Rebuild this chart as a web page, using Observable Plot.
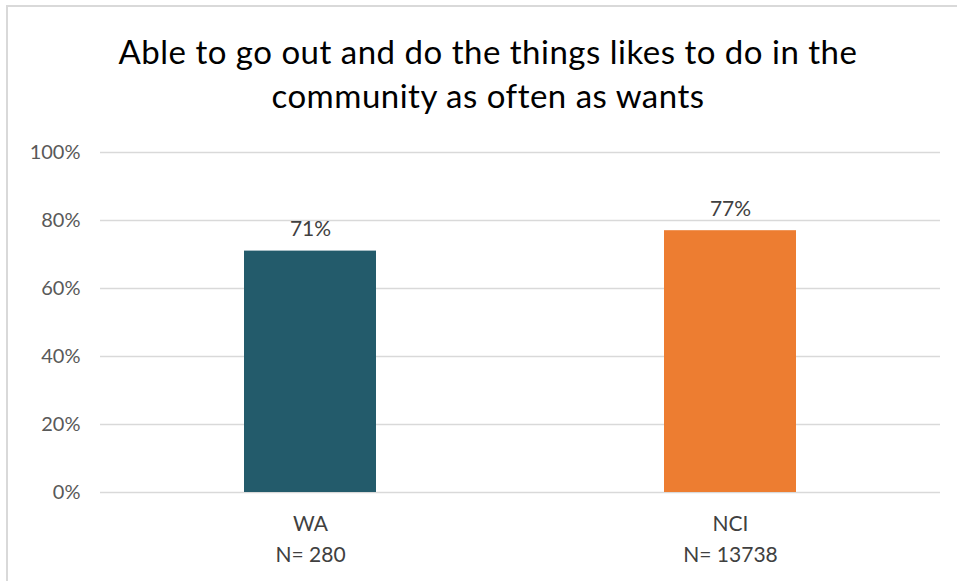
<!DOCTYPE html>
<html>
<head>
<meta charset="utf-8">
<script src="https://cdn.jsdelivr.net/npm/d3@7"></script>
<script src="https://cdn.jsdelivr.net/npm/@observablehq/plot@0.6"></script>
<style>
  html, body { margin: 0; padding: 0; background: #fff; }
  #wrap { position: relative; width: 957px; height: 581px; overflow: hidden; }
  #frame { position: absolute; left: 6px; top: 5px; width: 980px; height: 600px;
           border-left: 2px solid #d9d9d9; border-top: 2px solid #d9d9d9; }
  #title { position: absolute; left: 0; top: 29px; width: 976px; text-align: center;
           font-family: Lato, "Open Sans", sans-serif; font-size: 33px; line-height: 44px; color: #000;
           letter-spacing: 0.5px; }
  #chart { position: absolute; left: 0; top: 0; }
</style>
</head>
<body>
<div id="wrap">
  <div id="frame"></div>
  <div id="chart"></div>
  <div id="title">Able to go out and do the things likes to do in the<br>community as often as wants</div>
</div>
<script>
const categories = ["WA", "NCI"];
const sampleSizes = ["N= 280", "N= 13738"];
const values = [0.71, 0.77];
const colors = ["#235b6b", "#ed7d31"];
const yTicks = [0, 0.2, 0.4, 0.6, 0.8, 1.0];

const data = categories.map((c, i) => ({ cat: c, n: sampleSizes[i], value: values[i], color: colors[i] }));
const labelOf = Object.fromEntries(categories.map((c, i) => [c, c + "\n" + sampleSizes[i]]));

const chart = Plot.plot({
  width: 957,
  height: 581,
  marginLeft: 100,
  marginRight: 17,
  marginTop: 152,
  marginBottom: 89,
  style: { fontFamily: "Lato, 'Open Sans', sans-serif", background: "transparent" },
  x: { domain: categories, paddingInner: 0.686, paddingOuter: 0.343, label: null },
  y: { domain: [0, 1], label: null },
  marks: [
    Plot.gridY(yTicks, { stroke: "#d9d9d9", strokeOpacity: 1, strokeWidth: 1.5 }),
    Plot.barY(data, { x: "cat", y: "value", fill: "color" }),
    Plot.text(data, { x: "cat", y: "value", text: d => Math.round(d.value * 100) + "%",
      dy: -15, lineAnchor: "bottom", fontSize: 21, fill: "#404040" }),
    Plot.axisY(yTicks, { tickSize: 0, tickPadding: 20, tickFormat: d => Math.round(d * 100) + "%",
      fontSize: 20, color: "#595959", label: null }),
    Plot.axisX({ tickSize: 0, tickPadding: 17, tickFormat: d => labelOf[d], fontSize: 21,
      lineHeight: 1.45, color: "#404040", label: null })
  ]
});
document.getElementById("chart").appendChild(chart);
</script>
</body>
</html>
